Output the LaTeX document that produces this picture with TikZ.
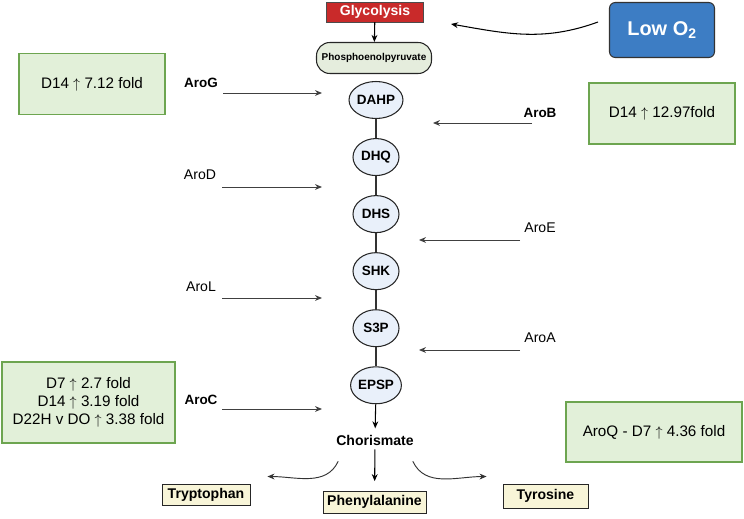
\documentclass[tikz,border=0pt]{standalone}
\usepackage{fontspec}
\setmainfont{Liberation Sans}
\usetikzlibrary{arrows.meta,positioning,shapes.geometric}
\definecolor{glyRed}{HTML}{C92A2A}
\definecolor{oxBlue}{HTML}{3D7DC4}
\definecolor{pepFill}{HTML}{E5EDDD}
\definecolor{metFill}{HTML}{E9F0FA}
\definecolor{foldFill}{HTML}{E2F0D9}
\definecolor{foldLine}{HTML}{6DA550}
\definecolor{aaFill}{HTML}{F8F5D8}

\begin{document}
\begin{tikzpicture}[x=0.03cm, y=0.03cm,
  met/.style={draw=black!85, line width=0.9pt, ellipse, fill=metFill, minimum width=1.38cm, minimum height=1.11cm, inner sep=0pt, font=\fontsize{11.5}{13}\selectfont\bfseries},
  fold/.style={draw=foldLine, line width=1.1pt, fill=foldFill, align=center, font=\fontsize{13}{15.5}\selectfont},
  aa/.style={draw=black!85, line width=0.8pt, fill=aaFill, font=\fontsize{12}{14}\selectfont\bfseries},
  enz/.style={font=\fontsize{12}{14}\selectfont, inner sep=1pt},
  enzb/.style={font=\fontsize{11.5}{14}\selectfont\bfseries, inner sep=1pt},
  arr/.style={-{Stealth[length=6pt, width=5pt]}, line width=0.8pt, black!75},
  link/.style={line width=1pt, black!80}
]
  \useasboundingbox (0,0) rectangle (744,518);

  % top of the pathway
  \node[draw=black!70, fill=glyRed, text=white, minimum width=2.91cm, minimum height=0.6cm, inner sep=0pt,
    font=\fontsize{12}{14}\selectfont\bfseries] (gly) at (375,506) {Glycolysis};
  \node[draw=black!85, line width=0.9pt, fill=pepFill, rounded corners=0.4cm, minimum width=3.45cm, minimum height=0.93cm,
    inner sep=0pt, font=\fontsize{8.5}{10}\selectfont\bfseries] (pep) at (374,460) {Phosphoenolpyruvate};
  \node[draw=black!80, line width=0.9pt, fill=oxBlue, text=white, rounded corners=5pt, minimum width=3.15cm, minimum height=1.65cm,
    font=\fontsize{17}{20}\selectfont\bfseries] (lowo) at (662,488) {Low O\textsubscript{2}};

  \draw[arr, black, line width=0.9pt] (gly) -- (pep);
  \coordinate (oxTail) at (598,496);
  \coordinate (oxHead) at (451,494);
  \draw[arr, black, line width=0.9pt] (oxTail) to[out=200, in=-10] (oxHead);

  % shikimate chain
  \node[met] (dahp) at (376,418) {DAHP};
  \node[met, below=0.57cm of dahp] (dhq) {DHQ};
  \node[met, below=0.57cm of dhq] (dhs) {DHS};
  \node[met, below=0.57cm of dhs] (shk) {SHK};
  \node[met, below=0.57cm of shk] (s3p) {S3P};
  \node[met, below=0.57cm of s3p] (epsp) {EPSP};
  \node[font=\fontsize{12}{14}\selectfont\bfseries] (chor) at (375,78) {Chorismate};

  \draw[link] (dahp) -- (dhq);
  \draw[link] (dhq) -- (dhs);
  \draw[link] (dhs) -- (shk);
  \draw[link] (shk) -- (s3p);
  \draw[link] (s3p) -- (epsp);
  \draw[arr, black, line width=0.9pt, shorten >=2pt] (epsp) -- (chor);

  % amino acids
  \node[aa, minimum width=2.64cm, minimum height=0.63cm, inner sep=0pt] (trp) at (206,23.5) {Tryptophan};
  \node[aa, minimum width=3.09cm, minimum height=0.66cm, inner sep=0pt] (phe) at (374.5,16) {Phenylalanine};
  \node[aa, minimum width=2.55cm, minimum height=0.72cm, inner sep=0pt] (tyr) at (545.5,22) {Tyrosine};

  \draw[arr, black, line width=0.9pt, shorten >=8pt] (chor) -- (phe);
  \draw[arr, black!80] ([shift={(6,-12)}]chor.south west) to[out=-115, in=0] ([shift={(17,7)}]trp.north east);
  \draw[arr, black!80] ([shift={(-5,-12)}]chor.south east) to[out=-65, in=180] ([shift={(-16,7)}]tyr.north west);

  % enzymes
  \node[enzb] (aroG) at (201,435) {AroG};
  \node[enzb] (aroB) at (540,405) {AroB};
  \node[enz] (aroD) at (200,343) {AroD};
  \node[enz] (aroE) at (540,290) {AroE};
  \node[enz] (aroL) at (201,231) {AroL};
  \node[enz] (aroA) at (540,180) {AroA};
  \node[enzb] (aroC) at (201,118) {AroC};

  \coordinate (gTail) at (223,425);  \coordinate (gHead) at (322,425);
  \coordinate (bTail) at (532,395);  \coordinate (bHead) at (433,395);
  \coordinate (dTail) at (222,331);  \coordinate (dHead) at (322,331);
  \coordinate (eTail) at (520,278);  \coordinate (eHead) at (419,278);
  \coordinate (lTail) at (222,220);  \coordinate (lHead) at (322,220);
  \coordinate (aTail) at (520,168);  \coordinate (aHead) at (419,168);
  \coordinate (cTail) at (222,109);  \coordinate (cHead) at (322,109);

  \draw[arr] (gTail) -- (gHead);
  \draw[arr] (bTail) -- (bHead);
  \draw[arr] (dTail) -- (dHead);
  \draw[arr] (eTail) -- (eHead);
  \draw[arr] (lTail) -- (lHead);
  \draw[arr] (aTail) -- (aHead);
  \draw[arr] (cTail) -- (cHead);

  % fold changes
  \node[fold, minimum width=4.38cm, minimum height=1.83cm] (foldG) at (92,434) {D14 $\uparrow$ 7.12 fold};
  \node[fold, minimum width=4.38cm, minimum height=1.83cm] (foldB) at (662,404.5) {D14 $\uparrow$ 12.97fold};
  \node[fold, minimum width=5.19cm, minimum height=2.43cm] (foldC) at (88.5,115.5)
    {D7 $\uparrow$ 2.7 fold\\D14 $\uparrow$ 3.19 fold\\D22H v DO $\uparrow$ 3.38 fold};
  \node[fold, minimum width=5.28cm, minimum height=1.8cm] (foldQ) at (654,86) {AroQ - D7 $\uparrow$ 4.36 fold};
\end{tikzpicture}
\end{document}
